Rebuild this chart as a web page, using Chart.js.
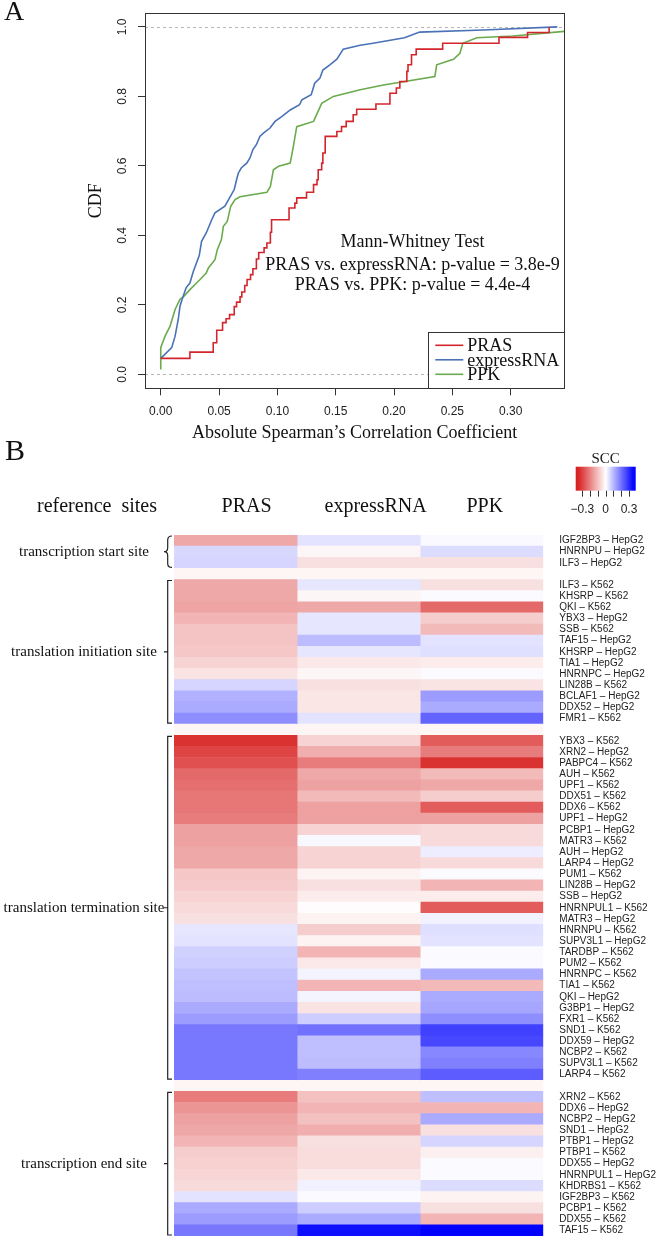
<!DOCTYPE html>
<html>
<head>
<meta charset="utf-8">
<title>CDF and SCC heatmap</title>
<script src="https://cdn.jsdelivr.net/npm/chart.js@4.4.1/dist/chart.umd.min.js"></script>
<style>
  html, body { margin: 0; padding: 0; background: #fff; }
  #wrap { position: relative; width: 659px; height: 1258px; overflow: hidden; }
  #cdf { position: absolute; left: 0; top: 0; }
  #heat { position: absolute; left: 0; top: 440px; }
</style>
</head>
<body>
<div id="wrap">
  <canvas id="cdf" width="659" height="470"></canvas>
  <canvas id="heat" width="659" height="818"></canvas>
</div>
<script>
// ---- Panel A data: CDF of |SCC| per method ----
const prasX = [0, 0.025, 0.045, 0.048, 0.053, 0.056, 0.059, 0.063, 0.065, 0.068, 0.0695, 0.072, 0.074, 0.077, 0.079, 0.082, 0.084, 0.0886, 0.091, 0.094, 0.095, 0.110, 0.115, 0.1166, 0.125, 0.131, 0.134, 0.135, 0.138, 0.139, 0.141, 0.151, 0.155, 0.159, 0.165, 0.168, 0.1845, 0.1965, 0.202, 0.205, 0.211, 0.212, 0.215, 0.219, 0.2417, 0.290, 0.3145, 0.333];
const prasY = [0.046, 0.064, 0.091, 0.127, 0.149, 0.160, 0.172, 0.195, 0.208, 0.223, 0.237, 0.256, 0.273, 0.287, 0.304, 0.332, 0.351, 0.364, 0.378, 0.409, 0.445, 0.479, 0.493, 0.508, 0.524, 0.546, 0.560, 0.589, 0.608, 0.637, 0.685, 0.699, 0.713, 0.728, 0.747, 0.763, 0.778, 0.809, 0.824, 0.843, 0.872, 0.891, 0.920, 0.936, 0.953, 0.970, 0.984, 1.0];

const expressX = [0, 0.0094, 0.0123, 0.015, 0.0165, 0.019, 0.0217, 0.025, 0.028, 0.033, 0.035, 0.039, 0.0437, 0.0465, 0.055, 0.059, 0.063, 0.065, 0.0665, 0.069, 0.0737, 0.0765, 0.079, 0.082, 0.085, 0.088, 0.0937, 0.098, 0.1037, 0.111, 0.119, 0.121, 0.129, 0.132, 0.1365, 0.139, 0.145, 0.151, 0.1565, 0.171, 0.182, 0.209, 0.222, 0.2765, 0.34];
const expressY = [0.046, 0.077, 0.110, 0.158, 0.196, 0.223, 0.249, 0.263, 0.297, 0.342, 0.383, 0.407, 0.445, 0.465, 0.484, 0.508, 0.532, 0.560, 0.579, 0.594, 0.608, 0.623, 0.647, 0.661, 0.685, 0.694, 0.709, 0.728, 0.742, 0.761, 0.776, 0.790, 0.805, 0.838, 0.853, 0.876, 0.891, 0.907, 0.936, 0.947, 0.953, 0.969, 0.985, 0.991, 1.0];

const ppkX = [0, 0, 0.0037, 0.008, 0.0123, 0.0165, 0.0194, 0.025, 0.0337, 0.039, 0.041, 0.0465, 0.0485, 0.052, 0.0537, 0.057, 0.060, 0.0637, 0.068, 0.091, 0.094, 0.0966, 0.101, 0.111, 0.1137, 0.1166, 0.131, 0.138, 0.148, 0.171, 0.191, 0.235, 0.2366, 0.251, 0.2565, 0.259, 0.271, 0.302, 0.346];
const ppkY = [0.014, 0.077, 0.110, 0.139, 0.187, 0.216, 0.223, 0.244, 0.273, 0.292, 0.307, 0.330, 0.359, 0.388, 0.426, 0.440, 0.484, 0.503, 0.511, 0.524, 0.541, 0.589, 0.599, 0.608, 0.656, 0.713, 0.728, 0.780, 0.800, 0.819, 0.833, 0.857, 0.891, 0.907, 0.924, 0.953, 0.969, 0.974, 0.987];

const cdfXTicks = [0, 0.05, 0.10, 0.15, 0.20, 0.25, 0.30];
const cdfYTicks = [0, 0.2, 0.4, 0.6, 0.8, 1.0];
const testLines = ['Mann-Whitney Test', 'PRAS vs. expressRNA: p-value = 3.8e-9', 'PRAS vs. PPK: p-value = 4.4e-4'];

// ---- Panel B data: SCC per RBP, grouped by reference site ----
const methods = ['PRAS', 'expressRNA', 'PPK'];
const groupNames = ['transcription start site', 'translation initiation site', 'translation termination site', 'transcription end site'];
const groupSizes = [3, 13, 31, 13];
const rbpNames = [
  'IGF2BP3 – HepG2', 'HNRNPU – HepG2', 'ILF3 – HepG2',
  'ILF3 – K562', 'KHSRP – K562', 'QKI – K562', 'YBX3 – HepG2', 'SSB – K562', 'TAF15 – HepG2', 'KHSRP – HepG2',
  'TIA1 – HepG2', 'HNRNPC – HepG2', 'LIN28B – K562', 'BCLAF1 – HepG2', 'DDX52 – HepG2', 'FMR1 – K562',
  'YBX3 – K562', 'XRN2 – HepG2', 'PABPC4 – K562', 'AUH – K562', 'UPF1 – K562', 'DDX51 – K562', 'DDX6 – K562',
  'UPF1 – HepG2', 'PCBP1 – HepG2', 'MATR3 – K562', 'AUH – HepG2', 'LARP4 – HepG2', 'PUM1 – K562', 'LIN28B – HepG2',
  'SSB – HepG2', 'HNRNPUL1 – K562', 'MATR3 – HepG2', 'HNRNPU – K562', 'SUPV3L1 – HepG2', 'TARDBP – K562',
  'PUM2 – K562', 'HNRNPC – K562', 'TIA1 – K562', 'QKI – HepG2', 'G3BP1 – HepG2', 'FXR1 – K562', 'SND1 – K562',
  'DDX59 – HepG2', 'NCBP2 – K562', 'SUPV3L1 – K562', 'LARP4 – K562',
  'XRN2 – K562', 'DDX6 – HepG2', 'NCBP2 – HepG2', 'SND1 – HepG2', 'PTBP1 – HepG2', 'PTBP1 – K562',
  'DDX55 – HepG2', 'HNRNPUL1 – HepG2', 'KHDRBS1 – K562', 'IGF2BP3 – K562', 'PCBP1 – K562', 'DDX55 – K562', 'TAF15 – K562'
];
const prasScc = [
  -0.14, 0.055, 0.06,
  -0.14, -0.14, -0.145, -0.12, -0.095, -0.095, -0.09, -0.07, -0.045, 0.06, 0.11, 0.12, 0.16,
  -0.33, -0.30, -0.28, -0.24, -0.23, -0.22, -0.22, -0.21, -0.15, -0.15, -0.14, -0.14, -0.09, -0.085,
  -0.07, -0.06, -0.05, 0.035, 0.04, 0.065, 0.07, 0.085, 0.09, 0.095, 0.12, 0.14, 0.19, 0.19, 0.19, 0.19, 0.19,
  -0.21, -0.17, -0.15, -0.14, -0.12, -0.08, -0.075, -0.065, -0.06, 0.04, 0.12, 0.14, 0.19
];
const expressScc = [
  0.04, -0.015, -0.05,
  0.035, -0.015, -0.14, 0.035, 0.035, 0.095, 0.035, -0.035, -0.015, -0.05, -0.04, -0.04, 0.04,
  -0.07, -0.13, -0.21, -0.14, -0.15, -0.11, -0.15, -0.15, -0.07, 0.01, -0.07, -0.07, -0.02, -0.05,
  -0.03, -0.005, -0.02, -0.08, -0.02, -0.12, -0.035, 0.015, -0.12, 0.015, -0.045, 0.07, 0.20, 0.09, 0.09, 0.095, 0.18,
  -0.10, -0.12, -0.10, -0.13, -0.05, -0.055, -0.055, -0.035, 0.02, 0.005, 0.07, 0.12, 0.34
];
const ppkScc = [
  0.008, 0.05, -0.05,
  -0.05, 0.005, -0.24, -0.08, -0.11, 0.04, 0.045, -0.03, 0.005, -0.045, 0.14, 0.12, 0.22,
  -0.26, -0.21, -0.33, -0.11, -0.14, -0.08, -0.26, -0.15, -0.06, -0.06, 0.025, -0.06, 0.005, -0.12,
  -0.03, -0.26, 0.02, 0.045, 0.04, 0.005, 0.005, 0.12, -0.11, 0.12, 0.125, 0.16, 0.27, 0.26, 0.17, 0.18, 0.23,
  0.09, -0.12, 0.12, -0.05, 0.06, -0.025, 0.005, 0.005, 0.05, -0.02, -0.05, -0.12, 0.36
];
const sccTicks = [-0.3, -0.2, -0.1, 0, 0.1, 0.2, 0.3];
const sccTickLabels = ['\u22120.3', '0', '0.3'];
const sccTickLabelValues = [-0.3, 0, 0.3];

// ---- styling ----
const SERIF = "'Liberation Serif', 'DejaVu Serif', serif";
const SANS = "'Liberation Sans', Arial, sans-serif";
const lineColors = { PRAS: '#d3262c', expressRNA: '#4a72b6', PPK: '#6aab4e' };
const sccLimit = 0.36;
const naColor = '#fdf6f5';

function sccColor(v) {
  if (v === null) return naColor;
  const t = Math.min(Math.abs(v) / sccLimit, 1);
  let r, g, b;
  if (v < 0) {
    r = 255 - t * (255 - 215); g = 255 - t * (255 - 30); b = g;
  } else {
    r = 255 - t * 255; g = r; b = 255;
  }
  return `rgb(${Math.round(r)}, ${Math.round(g)}, ${Math.round(b)})`;
}

function toPoints(xs, ys) {
  return xs.map((x, i) => ({ x: x, y: ys[i] }));
}

// ---- Panel A: CDF chart ----
const cdfDecor = {
  id: 'cdfDecor',
  beforeDatasetsDraw(chart) {
    const { ctx, chartArea: a, scales: { y } } = chart;
    ctx.save();
    ctx.strokeStyle = '#b5b5b5';
    ctx.lineWidth = 1;
    ctx.setLineDash([3, 3]);
    [0, 1].forEach(v => {
      const py = Math.round(y.getPixelForValue(v)) + 0.5;
      ctx.beginPath();
      ctx.moveTo(a.left, py);
      ctx.lineTo(a.right, py);
      ctx.stroke();
    });
    ctx.restore();
  },
  afterDraw(chart) {
    const { ctx, chartArea: a, scales: { y } } = chart;
    ctx.save();
    // plot box
    ctx.strokeStyle = '#333';
    ctx.lineWidth = 1;
    ctx.strokeRect(Math.round(a.left) + 0.5, Math.round(a.top) + 0.5, Math.round(a.right - a.left), Math.round(a.bottom - a.top));

    // y tick labels, parallel to the axis (R style)
    ctx.fillStyle = '#222';
    ctx.font = `12px ${SANS}`;
    ctx.textAlign = 'center';
    ctx.textBaseline = 'middle';
    cdfYTicks.forEach(v => {
      ctx.save();
      ctx.translate(123, y.getPixelForValue(v));
      ctx.rotate(-Math.PI / 2);
      ctx.fillText(v.toFixed(1), 0, 0);
      ctx.restore();
    });

    // axis titles
    ctx.font = `18px ${SERIF}`;
    ctx.fillStyle = '#111';
    ctx.save();
    ctx.translate(96, (a.top + a.bottom) / 2);
    ctx.rotate(-Math.PI / 2);
    ctx.fillText('CDF', 0, 0);
    ctx.restore();
    ctx.fillText('Absolute Spearman\u2019s Correlation Coefficient', (a.left + a.right) / 2, 433);

    // panel letter
    ctx.font = `28px ${SERIF}`;
    ctx.fillText('A', 14, 13);

    // test annotation
    ctx.font = `18px ${SERIF}`;
    testLines.forEach((t, i) => ctx.fillText(t, 412.5, 242 + [0, 23, 43][i]));

    // legend box
    const bw = 136, bh = 56;
    const bx = a.right - bw, by = a.bottom - bh;
    ctx.fillStyle = '#fff';
    ctx.fillRect(bx, by, bw, bh);
    ctx.strokeStyle = '#333';
    ctx.strokeRect(Math.round(bx) + 0.5, Math.round(by) + 0.5, bw, bh);
    ctx.textAlign = 'left';
    chart.data.datasets.forEach((ds, i) => {
      const ly = by + 13 + i * 14.5;
      ctx.strokeStyle = ds.borderColor;
      ctx.lineWidth = 1.6;
      ctx.beginPath();
      ctx.moveTo(bx + 7, ly);
      ctx.lineTo(bx + 35, ly);
      ctx.stroke();
      ctx.fillStyle = '#111';
      ctx.fillText(ds.label, bx + 39, ly + 1);
    });
    ctx.restore();
  }
};

new Chart(document.getElementById('cdf'), {
  type: 'scatter',
  data: {
    datasets: [
      { label: 'PRAS', data: toPoints(prasX, prasY), stepped: true },
      { label: 'expressRNA', data: toPoints(expressX, expressY) },
      { label: 'PPK', data: toPoints(ppkX, ppkY) }
    ].map(ds => ({
      ...ds,
      showLine: true,
      borderColor: lineColors[ds.label],
      backgroundColor: lineColors[ds.label],
      borderWidth: 1.6,
      pointRadius: 0,
      tension: 0
    }))
  },
  options: {
    responsive: false,
    animation: false,
    layout: { padding: { top: 13, right: 94.7, left: 0, bottom: 0 } },
    plugins: { legend: { display: false }, tooltip: { enabled: false } },
    scales: {
      x: {
        type: 'linear',
        min: -0.0135,
        max: 0.346,
        border: { display: false },
        grid: { drawOnChartArea: false, color: '#333', tickLength: 7 },
        afterBuildTicks: s => { s.ticks = cdfXTicks.map(v => ({ value: v })); },
        afterFit: s => { s.height = 81.7; },
        ticks: {
          padding: 9,
          color: '#222',
          font: { family: SANS, size: 12 },
          callback: v => v.toFixed(2)
        }
      },
      y: {
        type: 'linear',
        min: -0.04,
        max: 1.04,
        border: { display: false },
        grid: { drawOnChartArea: false, color: '#333', tickLength: 7 },
        afterBuildTicks: s => { s.ticks = cdfYTicks.map(v => ({ value: v })); },
        afterFit: s => { s.width = 145; },
        ticks: { display: false }
      }
    }
  },
  plugins: [cdfDecor]
});

// ---- Panel B: heatmap ----
// build row table with one blank row between groups
const rowLabels = [];
const rowGroup = [];
const cellValues = [[], [], []];
const sccByMethod = [prasScc, expressScc, ppkScc];
let k = 0;
groupSizes.forEach((n, g) => {
  if (g > 0) {
    rowLabels.push('');
    rowGroup.push(-1);
    cellValues.forEach(col => col.push(null));
  }
  for (let i = 0; i < n; i++, k++) {
    rowLabels.push(rbpNames[k]);
    rowGroup.push(g);
    cellValues.forEach((col, c) => col.push(sccByMethod[c][k]));
  }
});

const heatDecor = {
  id: 'heatDecor',
  afterDraw(chart) {
    const { ctx, chartArea: a, scales: { x, y } } = chart;
    ctx.save();
    ctx.fillStyle = '#111';
    ctx.textAlign = 'center';
    ctx.textBaseline = 'middle';

    ctx.font = `30px ${SERIF}`;
    ctx.fillText('B', 15, 12);

    // column headers
    ctx.font = `20px ${SERIF}`;
    ctx.fillText('reference  sites', 97, 66.7);
    const headerShift = [11, 17, 3];
    methods.forEach((m, c) => ctx.fillText(m, x.getPixelForValue(c + 0.5) + headerShift[c], 66.7));

    // group brackets and names
    const rowH = y.getPixelForValue(1) - y.getPixelForValue(0);
    ctx.strokeStyle = '#222';
    ctx.lineWidth = 1.2;
    ctx.font = `15px ${SERIF}`;
    groupNames.forEach((name, g) => {
      const first = rowGroup.indexOf(g);
      const last = rowGroup.lastIndexOf(g);
      const top = y.getPixelForValue(first) - rowH / 2 + 1;
      const bot = y.getPixelForValue(last) + rowH / 2 - 1;
      const mid = (top + bot) / 2;
      const xv = 167.7, xr = 172, xl = 164;
      ctx.beginPath();
      if (g === 0) {
        ctx.moveTo(xr, top);
        ctx.quadraticCurveTo(xv, top, xv, top + 4);
        ctx.lineTo(xv, mid - 4);
        ctx.quadraticCurveTo(xv, mid, xl, mid);
        ctx.quadraticCurveTo(xv, mid, xv, mid + 4);
        ctx.lineTo(xv, bot - 4);
        ctx.quadraticCurveTo(xv, bot, xr, bot);
      } else {
        ctx.moveTo(xr, top);
        ctx.lineTo(xv, top);
        ctx.lineTo(xv, bot);
        ctx.lineTo(xr, bot);
        ctx.moveTo(xv, mid);
        ctx.lineTo(xl, mid);
      }
      ctx.stroke();
      ctx.fillText(name, 84, mid);
    });

    // colour key
    const cbL = 575.7, cbR = 635.7, cbT = 26.7, cbB = 50.7, cbMax = 0.386;
    const cbX = v => cbL + (v + cbMax) / (2 * cbMax) * (cbR - cbL);
    const grad = ctx.createLinearGradient(cbL, 0, cbR, 0);
    for (let i = 0; i <= 20; i++) {
      const v = -cbMax + i * (2 * cbMax / 20);
      grad.addColorStop(i / 20, sccColor(v));
    }
    ctx.fillStyle = grad;
    ctx.fillRect(cbL, cbT, cbR - cbL, cbB - cbT);
    ctx.strokeStyle = '#333';
    ctx.lineWidth = 1;
    sccTicks.forEach(v => {
      const px = Math.round(cbX(v)) + 0.5;
      ctx.beginPath();
      ctx.moveTo(px, cbB);
      ctx.lineTo(px, cbB + 6);
      ctx.stroke();
    });
    ctx.fillStyle = '#222';
    ctx.font = `12px ${SANS}`;
    sccTickLabels.forEach((t, i) => ctx.fillText(t, cbX(sccTickLabelValues[i]), 70));
    ctx.font = `15px ${SERIF}`;
    ctx.fillText('SCC', (cbL + cbR) / 2, 19);
    ctx.restore();
  }
};

new Chart(document.getElementById('heat'), {
  type: 'bar',
  data: {
    labels: rowLabels,
    datasets: methods.map((m, c) => ({
      label: m,
      data: rowLabels.map(() => [c, c + 1]),
      backgroundColor: cellValues[c].map(sccColor),
      borderWidth: 0,
      barPercentage: 1,
      categoryPercentage: 1,
      grouped: false
    }))
  },
  options: {
    indexAxis: 'y',
    responsive: false,
    animation: false,
    layout: { padding: { left: 174, top: 95, right: 0, bottom: 3.7 } },
    plugins: { legend: { display: false }, tooltip: { enabled: false } },
    scales: {
      x: { type: 'linear', min: 0, max: 3, display: false },
      y: {
        type: 'category',
        position: 'right',
        border: { display: false },
        grid: { display: false, drawTicks: false },
        afterFit: s => { s.width = 115.7; },
        ticks: {
          autoSkip: false,
          padding: 16,
          color: '#222',
          font: { family: SANS, size: 10 }
        }
      }
    }
  },
  plugins: [heatDecor]
});
</script>
</body>
</html>
